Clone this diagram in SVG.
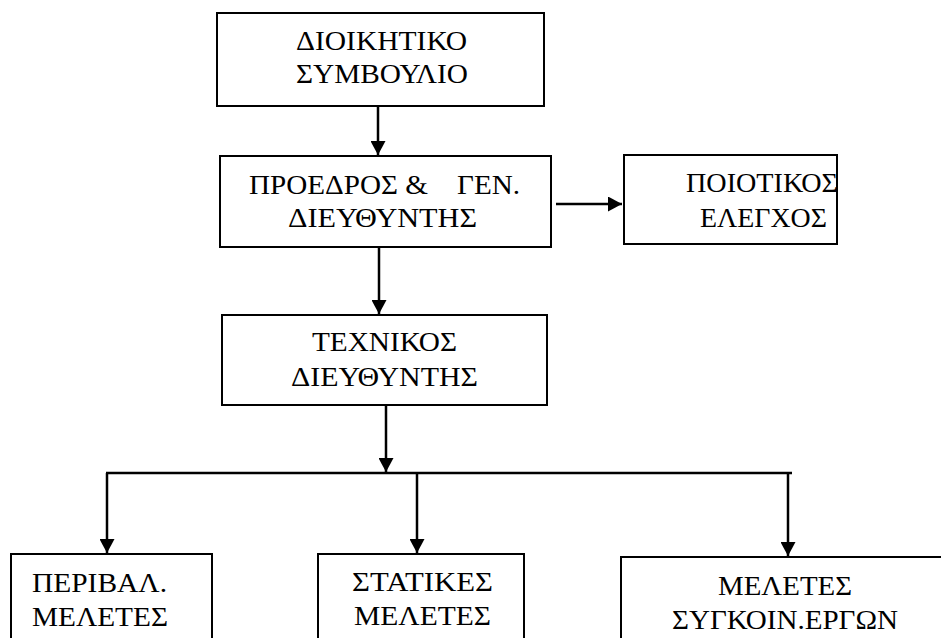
<svg xmlns="http://www.w3.org/2000/svg" width="941" height="638" viewBox="0 0 941 638">
  <style>
    .box { fill: #ffffff; stroke: #000000; stroke-width: 2; }
    .lbl { font-size: 28px; fill: #000000; text-anchor: middle; white-space: pre; }
    .lft { text-anchor: start; }
    .wire { fill: none; stroke: #000000; stroke-width: 2.5; }
  </style>
  <defs>
    <marker id="head" markerUnits="userSpaceOnUse" markerWidth="15" markerHeight="15" refX="14" refY="7.5" orient="auto">
      <path d="M0,0 L14,7.5 L0,15 Z" fill="#000000"/>
    </marker>
  </defs>
  <rect width="941" height="638" fill="#ffffff"/>

  <g id="connectors">
    <line class="wire" x1="378" y1="107" x2="378" y2="155" marker-end="url(#head)"/>
    <line class="wire" x1="379" y1="248" x2="379" y2="314" marker-end="url(#head)"/>
    <line class="wire" x1="556" y1="204" x2="622" y2="204" marker-end="url(#head)"/>
    <line class="wire" x1="386" y1="406" x2="386" y2="472" marker-end="url(#head)"/>
    <line class="wire" x1="106" y1="473" x2="792" y2="473"/>
    <line class="wire" x1="107" y1="473" x2="107" y2="553" marker-end="url(#head)"/>
    <line class="wire" x1="417" y1="473" x2="417" y2="553" marker-end="url(#head)"/>
    <line class="wire" x1="788" y1="473" x2="788" y2="556" marker-end="url(#head)"/>
  </g>

  <g font-family="Liberation Serif, Times New Roman, DejaVu Serif, serif">
    <g id="board">
      <rect class="box" x="217" y="13" width="327" height="93"/>
      <text class="lbl" x="381.5" y="50" textLength="171" lengthAdjust="spacingAndGlyphs">ΔΙΟΙΚΗΤΙΚΟ</text>
      <text class="lbl" x="382" y="83" textLength="172" lengthAdjust="spacingAndGlyphs">ΣΥΜΒΟΥΛΙΟ</text>
    </g>

    <g id="president">
      <rect class="box" x="220" y="156" width="331" height="91"/>
      <text class="lbl" x="384.5" y="194" textLength="271" lengthAdjust="spacingAndGlyphs">ΠΡΟΕΔΡΟΣ &amp;    ΓΕΝ.</text>
      <text class="lbl" x="382.5" y="227" textLength="189" lengthAdjust="spacingAndGlyphs">ΔΙΕΥΘΥΝΤΗΣ</text>
    </g>

    <g id="quality">
      <rect class="box" x="624" y="155" width="213" height="89"/>
      <text class="lbl" x="762" y="192" textLength="152" lengthAdjust="spacingAndGlyphs">ΠΟΙΟΤΙΚΟΣ</text>
      <text class="lbl" x="763.5" y="227" textLength="127" lengthAdjust="spacingAndGlyphs">ΕΛΕΓΧΟΣ</text>
    </g>

    <g id="technical">
      <rect class="box" x="222" y="315" width="325" height="90"/>
      <text class="lbl" x="384.5" y="351" textLength="145" lengthAdjust="spacingAndGlyphs">ΤΕΧΝΙΚΟΣ</text>
      <text class="lbl" x="384.5" y="386" textLength="187" lengthAdjust="spacingAndGlyphs">ΔΙΕΥΘΥΝΤΗΣ</text>
    </g>

    <g id="environmental">
      <rect class="box" x="11" y="554" width="201" height="110"/>
      <text class="lbl lft" x="32" y="592" textLength="135" lengthAdjust="spacingAndGlyphs">ΠΕΡΙΒΑΛ.</text>
      <text class="lbl lft" x="32" y="626" textLength="136" lengthAdjust="spacingAndGlyphs">ΜΕΛΕΤΕΣ</text>
    </g>

    <g id="structural">
      <rect class="box" x="318" y="554" width="206" height="110"/>
      <text class="lbl" x="422.5" y="591" textLength="141" lengthAdjust="spacingAndGlyphs">ΣΤΑΤΙΚΕΣ</text>
      <text class="lbl" x="422.5" y="625" textLength="137" lengthAdjust="spacingAndGlyphs">ΜΕΛΕΤΕΣ</text>
    </g>

    <g id="joint">
      <rect class="box" x="621" y="557" width="340" height="110"/>
      <text class="lbl" x="785" y="595" textLength="134" lengthAdjust="spacingAndGlyphs">ΜΕΛΕΤΕΣ</text>
      <text class="lbl" x="785" y="629" textLength="226" lengthAdjust="spacingAndGlyphs">ΣΥΓΚΟΙΝ.ΕΡΓΩΝ</text>
    </g>
  </g>
</svg>
